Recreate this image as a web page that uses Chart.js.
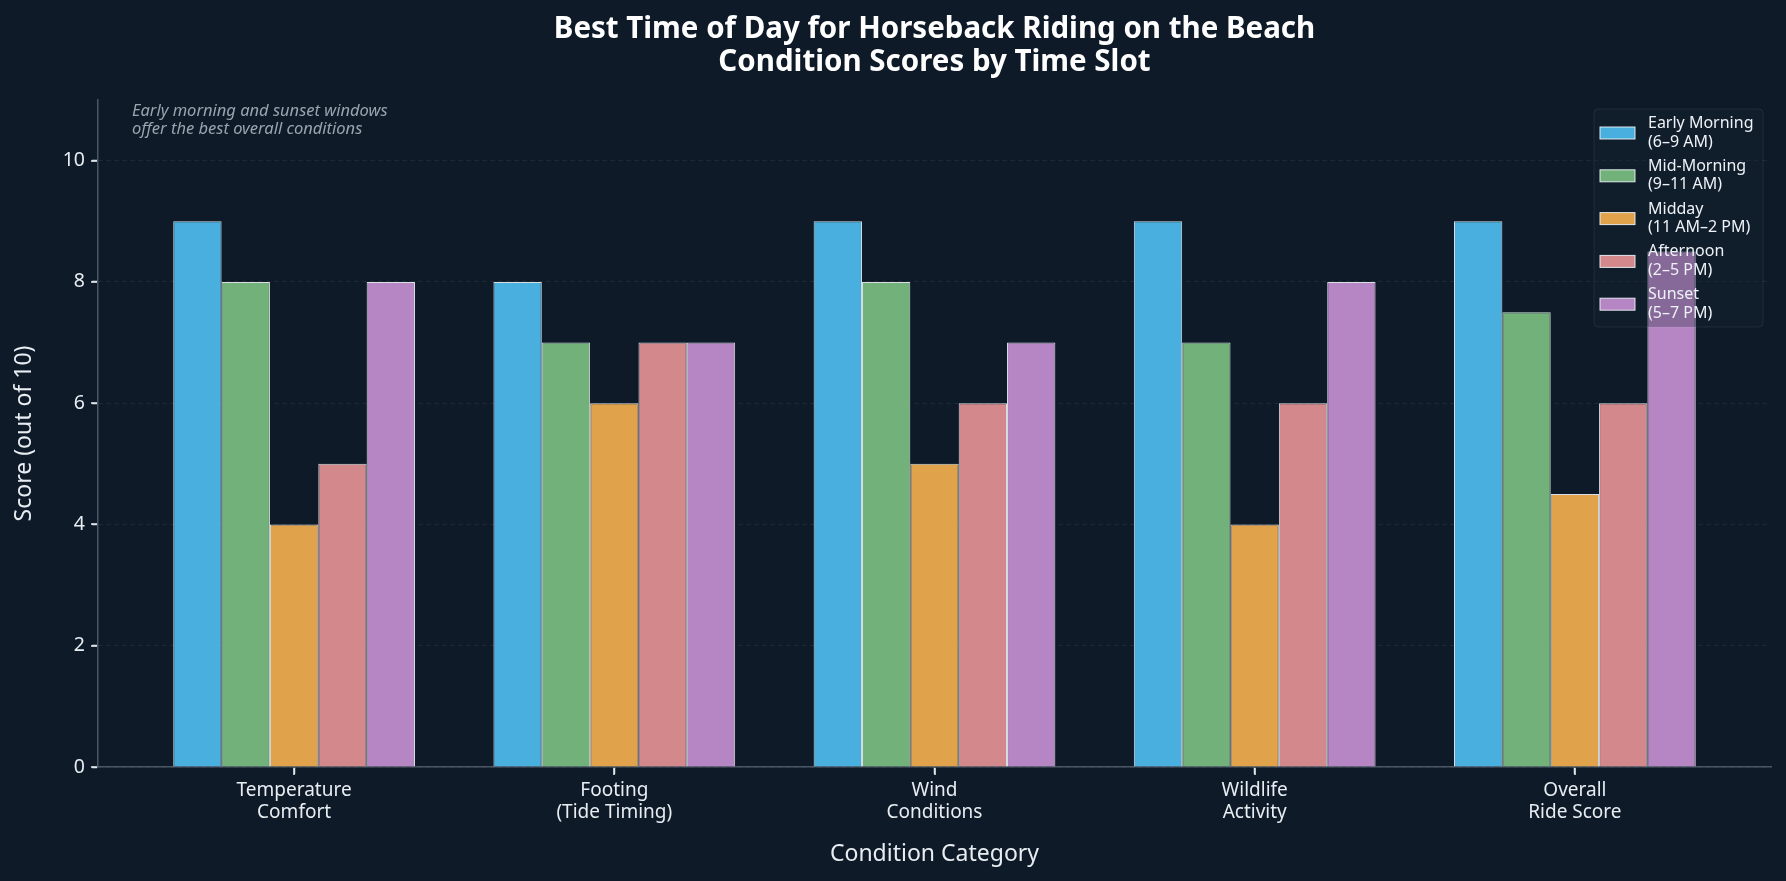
<!DOCTYPE html>
<html>
<head>
<meta charset="utf-8">
<script src="https://cdn.jsdelivr.net/npm/chart.js@4.4.1/dist/chart.umd.min.js"></script>
<style>
  html, body { margin: 0; padding: 0; background: #0e1a28; }
  #wrap { width: 1786px; height: 881px; }
</style>
</head>
<body>
<div id="wrap"><canvas id="c" width="1786" height="881"></canvas></div>
<script>
// ---- Data ----
const categories = [
  ["Temperature", "Comfort"],
  ["Footing", "(Tide Timing)"],
  ["Wind", "Conditions"],
  ["Wildlife", "Activity"],
  ["Overall", "Ride Score"]
];
const timeSlots = [
  ["Early Morning", "(6–9 AM)"],
  ["Mid-Morning", "(9–11 AM)"],
  ["Midday", "(11 AM–2 PM)"],
  ["Afternoon", "(2–5 PM)"],
  ["Sunset", "(5–7 PM)"]
];
const earlyMorning = [9, 8, 9, 9, 9];
const midMorning   = [8, 7, 8, 7, 7.5];
const midday       = [4, 6, 5, 4, 4.5];
const afternoon    = [5, 7, 6, 6, 6];
const sunset       = [8, 7, 7, 8, 8.5];
const yTicks = [0, 2, 4, 6, 8, 10];
const titleLines = ["Best Time of Day for Horseback Riding on the Beach", "Condition Scores by Time Slot"];
const noteLines = ["Early morning and sunset windows", "offer the best overall conditions"];

// ---- Styles ----
const seriesValues = [earlyMorning, midMorning, midday, afternoon, sunset];
const colors = ["#48afdf", "#72b27a", "#e0a34b", "#d3898c", "#b686c4"];
const FONT = "'Noto Sans', 'Open Sans', sans-serif";
const TICK_COLOR = "#dfe5ea";

const datasets = seriesValues.map((vals, i) => ({
  label: timeSlots[i].join("\n"),
  lines: timeSlots[i],
  data: vals.map((v, j) => ({ x: j, y: v })),
  backgroundColor: colors[i],
  borderColor: "rgba(240,245,250,0.9)",
  borderWidth: 1,
  categoryPercentage: 0.755,
  barPercentage: 1.0
}));

function drawTickMarks(chart) {
  const ctx = chart.ctx;
  const area = chart.chartArea;
  const xs = chart.scales.x, ys = chart.scales.y;
  ctx.save();
  ctx.setLineDash([]);
  ctx.strokeStyle = TICK_COLOR;
  ctx.lineWidth = 1.6;
  for (let i = 0; i < categories.length; i++) {
    const px = Math.round(xs.getPixelForValue(i));
    ctx.beginPath();
    ctx.moveTo(px, area.bottom + 1);
    ctx.lineTo(px, area.bottom + 8);
    ctx.stroke();
  }
  for (const v of yTicks) {
    const py = Math.round(ys.getPixelForValue(v));
    ctx.beginPath();
    ctx.moveTo(area.left - 7, py);
    ctx.lineTo(area.left - 1, py);
    ctx.stroke();
  }
  ctx.restore();
}

const overlayPlugin = {
  id: "overlay",
  afterDatasetsDraw(chart) {
    const ctx = chart.ctx;
    const area = chart.chartArea;
    ctx.save();
    // annotation note
    ctx.font = "italic 16.5px " + FONT;
    ctx.fillStyle = "#9aa4ae";
    ctx.textAlign = "left";
    ctx.textBaseline = "middle";
    noteLines.forEach((t, i) => ctx.fillText(t, area.left + 34, 111 + i * 18.2));

    // legend
    const bx = 1594, by = 109, bw = 169, bh = 218;
    ctx.beginPath();
    ctx.roundRect(bx, by, bw, bh, 4);
    ctx.fillStyle = "rgba(24,38,54,0.3)";
    ctx.fill();
    ctx.strokeStyle = "rgba(255,255,255,0.08)";
    ctx.lineWidth = 1;
    ctx.stroke();
    ctx.font = "16px " + FONT;
    chart.data.datasets.forEach((ds, i) => {
      const cy = 133 + i * 42.8;
      ctx.fillStyle = ds.backgroundColor;
      ctx.fillRect(1600, cy - 6, 35, 12);
      ctx.strokeStyle = "rgba(240,245,250,0.9)";
      ctx.strokeRect(1600, cy - 6, 35, 12);
      ctx.fillStyle = "#eef2f6";
      ctx.fillText(ds.lines[0], 1648, cy - 9.5);
      ctx.fillText(ds.lines[1], 1648, cy + 9);
    });
    ctx.restore();
    drawTickMarks(chart);
  }
};

new Chart(document.getElementById("c"), {
  type: "bar",
  data: { datasets },
  plugins: [overlayPlugin],
  options: {
    responsive: false,
    animation: false,
    layout: { padding: { top: 0, left: 0, right: 15, bottom: 0 } },
    plugins: {
      legend: { display: false },
      tooltip: { enabled: false },
      title: {
        display: true,
        fullSize: false,
        text: titleLines,
        color: "#ffffff",
        font: { family: FONT, size: 29.5, weight: "bold", lineHeight: 1.13 },
        padding: { top: 13, bottom: 20.3 }
      }
    },
    scales: {
      x: {
        type: "linear",
        min: -0.6125,
        max: 4.6125,
        offset: false,
        afterFit(scale) { scale.height = 114; },
        afterBuildTicks(scale) { scale.ticks = categories.map((c, i) => ({ value: i })); },
        ticks: {
          color: "#e8edf2",
          font: { family: FONT, size: 19, lineHeight: 1.14 },
          padding: 6,
          autoSkip: false,
          maxRotation: 0,
          callback: (v) => categories[v]
        },
        grid: {
          offset: false,
          drawOnChartArea: false,
          drawTicks: true,
          tickLength: 7,
          tickColor: TICK_COLOR,
          tickWidth: 1.5
        },
        border: { color: "#4b5664", width: 1.5 },
        title: {
          display: true,
          text: "Condition Category",
          color: "#e8edf2",
          font: { family: FONT, size: 23, lineHeight: 1.2 },
          padding: { top: 0, bottom: 13 }
        }
      },
      y: {
        min: 0,
        max: 11,
        afterFit(scale) { scale.width = 98; },
        afterBuildTicks(scale) { scale.ticks = yTicks.map(v => ({ value: v })); },
        ticks: {
          color: "#e8edf2",
          font: { family: FONT, size: 19.5 },
          padding: 7
        },
        grid: {
          color: "rgba(255,255,255,0.08)",
          drawTicks: true,
          tickLength: 6,
          tickColor: TICK_COLOR,
          tickWidth: 1.5,
          tickBorderDash: []
        },
        border: { color: "#4b5664", width: 1.5, dash: [4, 4] },
        title: {
          display: true,
          text: "Score (out of 10)",
          color: "#e8edf2",
          font: { family: FONT, size: 23, lineHeight: 1.2 },
          padding: { top: 11, bottom: 0 }
        }
      }
    }
  }
});
</script>
</body>
</html>
